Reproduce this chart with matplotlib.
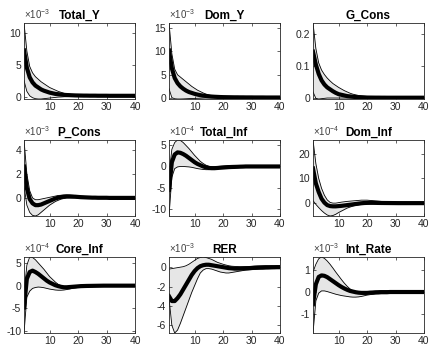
import numpy as np
import matplotlib
matplotlib.use("Agg")
import matplotlib.pyplot as plt
from matplotlib.ticker import FormatStrFormatter

plt.rcParams['font.family'] = ['Liberation Sans', 'DejaVu Sans']
plt.rcParams['mathtext.fontset'] = 'custom'
plt.rcParams['mathtext.rm'] = 'Liberation Sans'
plt.rcParams['mathtext.it'] = 'Liberation Sans:italic'
plt.rcParams['axes.unicode_minus'] = False

periods = np.arange(1, 41)

titles = ['Total_Y', 'Dom_Y', 'G_Cons',
          'P_Cons', 'Total_Inf', 'Dom_Inf',
          'Core_Inf', 'RER', 'Int_Rate']
exponents = [-3, -3, None, -3, -4, -4, -4, -3, -3]
yticks = [[0, 5, 10], [0, 5, 10, 15], [0, 0.1, 0.2],
          [0, 2, 4], [-10, -5, 0, 5], [0, 10, 20],
          [-10, -5, 0, 5], [-6, -4, -2, 0], [-1, 0, 1]]

# values below are already divided by the axis exponent
total_y_med = [7.3, 4.6, 3.1, 2.3, 1.8, 1.5, 1.2, 1.0, 0.85, 0.7, 0.6, 0.5, 0.45, 0.4, 0.35, 0.32, 0.3, 0.28, 0.26, 0.25,
               0.24, 0.23, 0.23, 0.22, 0.22, 0.22, 0.21, 0.21, 0.21, 0.21, 0.2, 0.2, 0.2, 0.2, 0.2, 0.2, 0.2, 0.2, 0.2, 0.2]
total_y_hi = [11.6, 7.2, 4.8, 3.8, 3.2, 2.8, 2.4, 2.1, 1.8, 1.5, 1.3, 1.1, 0.9, 0.75, 0.6, 0.5, 0.45, 0.4, 0.35, 0.32,
              0.3, 0.3, 0.3, 0.3, 0.3, 0.3, 0.3, 0.3, 0.3, 0.3, 0.3, 0.3, 0.3, 0.3, 0.3, 0.3, 0.3, 0.3, 0.3, 0.3]
total_y_lo = [2.6, 0.9, 0.2, -0.1, -0.25, -0.3, -0.3, -0.25, -0.2, -0.15, -0.1, -0.05, 0.0, 0.02, 0.05, 0.07, 0.08, 0.1, 0.1, 0.1,
              0.1, 0.1, 0.1, 0.1, 0.1, 0.1, 0.1, 0.1, 0.1, 0.1, 0.1, 0.1, 0.1, 0.1, 0.1, 0.1, 0.1, 0.1, 0.1, 0.1]

dom_y_med = [10.2, 6.4, 4.3, 3.2, 2.5, 2.0, 1.6, 1.3, 1.1, 0.9, 0.75, 0.62, 0.52, 0.45, 0.38, 0.32, 0.28, 0.25, 0.22, 0.2,
             0.19, 0.18, 0.17, 0.16, 0.16, 0.15, 0.15, 0.14, 0.14, 0.14, 0.13, 0.13, 0.13, 0.13, 0.12, 0.12, 0.12, 0.12, 0.12, 0.12]
dom_y_hi = [16.1, 9.5, 6.2, 5.0, 4.5, 4.0, 3.5, 3.0, 2.5, 2.1, 1.7, 1.4, 1.1, 0.85, 0.65, 0.5, 0.4, 0.32, 0.27, 0.23,
            0.22, 0.21, 0.21, 0.2, 0.2, 0.2, 0.2, 0.2, 0.2, 0.2, 0.2, 0.2, 0.2, 0.2, 0.2, 0.2, 0.2, 0.2, 0.2, 0.2]
dom_y_lo = [2.0, 0.1, -0.15, -0.2, -0.2, -0.18, -0.15, -0.12, -0.1, -0.08, -0.05, -0.03, 0.0, 0.02, 0.03, 0.04, 0.05, 0.05, 0.05, 0.05,
            0.05, 0.05, 0.05, 0.05, 0.05, 0.05, 0.05, 0.05, 0.05, 0.05, 0.05, 0.05, 0.05, 0.05, 0.05, 0.05, 0.05, 0.05, 0.05, 0.05]

g_cons_med = [0.145, 0.105, 0.076, 0.056, 0.043, 0.034, 0.028, 0.022, 0.017, 0.013, 0.011, 0.009, 0.007, 0.006, 0.005, 0.004, 0.0035, 0.003, 0.0027, 0.0025,
              0.0024, 0.0023, 0.0022, 0.0022, 0.0021, 0.0021, 0.002, 0.002, 0.002, 0.002, 0.002, 0.002, 0.002, 0.002, 0.002, 0.002, 0.002, 0.002, 0.002, 0.002]
g_cons_hi = [0.234, 0.155, 0.110, 0.088, 0.074, 0.063, 0.054, 0.046, 0.040, 0.034, 0.029, 0.024, 0.020, 0.016, 0.013, 0.011, 0.009, 0.008, 0.007, 0.006,
             0.0055, 0.005, 0.005, 0.0048, 0.0046, 0.0045, 0.0044, 0.0043, 0.0042, 0.0041, 0.004, 0.004, 0.004, 0.004, 0.004, 0.004, 0.004, 0.004, 0.004, 0.004]
g_cons_lo = [0.02, 0.0, -0.002, -0.001, 0.0, 0.001, 0.001, 0.001, 0.001, 0.001, 0.001, 0.001, 0.001, 0.001, 0.001, 0.001, 0.001, 0.001, 0.001, 0.001,
             0.001, 0.001, 0.001, 0.001, 0.001, 0.001, 0.001, 0.001, 0.001, 0.001, 0.001, 0.001, 0.001, 0.001, 0.001, 0.001, 0.001, 0.001, 0.001, 0.001]

p_cons_med = [2.6, 0.8, -0.1, -0.45, -0.6, -0.6, -0.55, -0.45, -0.35, -0.25, -0.15, -0.05, 0.02, 0.07, 0.1, 0.12, 0.12, 0.11, 0.1, 0.08,
              0.06, 0.05, 0.04, 0.03, 0.02, 0.02, 0.01, 0.01, 0.01, 0.01, 0.0, 0.0, 0.0, 0.0, 0.0, 0.0, 0.0, 0.0, 0.0, 0.0]
p_cons_hi = [4.8, 2.0, 0.6, 0.0, -0.15, -0.15, -0.1, -0.05, 0.0, 0.05, 0.1, 0.15, 0.2, 0.22, 0.24, 0.25, 0.24, 0.22, 0.2, 0.17,
             0.15, 0.13, 0.11, 0.1, 0.09, 0.08, 0.07, 0.07, 0.06, 0.06, 0.06, 0.06, 0.06, 0.06, 0.06, 0.06, 0.06, 0.06, 0.06, 0.06]
p_cons_lo = [1.0, -0.6, -1.2, -1.45, -1.5, -1.4, -1.2, -1.0, -0.8, -0.6, -0.45, -0.3, -0.2, -0.1, -0.05, 0.0, 0.0, 0.0, 0.0, -0.02,
             -0.03, -0.04, -0.05, -0.05, -0.05, -0.05, -0.05, -0.05, -0.05, -0.05, -0.05, -0.05, -0.05, -0.05, -0.05, -0.05, -0.05, -0.05, -0.05, -0.05]

total_inf_med = [-5.5, 1.0, 2.8, 3.3, 3.2, 2.9, 2.5, 2.0, 1.5, 1.0, 0.6, 0.3, 0.0, -0.2, -0.35, -0.4, -0.4, -0.35, -0.3, -0.25,
                 -0.2, -0.15, -0.12, -0.1, -0.08, -0.05, -0.03, 0.0, 0.0, 0.0, 0.0, 0.0, 0.0, 0.0, 0.0, 0.0, 0.0, 0.0, 0.0, 0.0]
total_inf_hi = [-2.0, 4.0, 5.6, 6.2, 6.1, 5.6, 4.9, 4.2, 3.4, 2.6, 1.9, 1.2, 0.7, 0.3, 0.05, -0.05, -0.05, 0.0, 0.05, 0.1,
                0.15, 0.2, 0.2, 0.2, 0.2, 0.2, 0.2, 0.2, 0.2, 0.2, 0.2, 0.2, 0.2, 0.2, 0.2, 0.2, 0.2, 0.2, 0.2, 0.2]
total_inf_lo = [-11.6, -2.5, -0.5, -0.1, 0.0, 0.0, -0.05, -0.1, -0.2, -0.35, -0.5, -0.6, -0.7, -0.75, -0.75, -0.7, -0.6, -0.5, -0.45, -0.4,
                -0.35, -0.3, -0.25, -0.2, -0.2, -0.15, -0.15, -0.1, -0.1, -0.1, -0.1, -0.1, -0.1, -0.1, -0.1, -0.1, -0.1, -0.1, -0.1, -0.1]

dom_inf_med = [14.0, 8.0, 4.5, 1.8, 0.2, -0.8, -1.2, -1.3, -1.3, -1.2, -1.1, -0.95, -0.8, -0.65, -0.5, -0.35, -0.2, -0.05, 0.05, 0.1,
               0.12, 0.12, 0.1, 0.08, 0.06, 0.05, 0.04, 0.03, 0.02, 0.01, 0.0, 0.0, 0.0, 0.0, 0.0, 0.0, 0.0, 0.0, 0.0, 0.0]
dom_inf_hi = [25.5, 16.0, 10.0, 6.0, 3.2, 1.3, 0.3, 0.0, 0.0, 0.2, 0.4, 0.55, 0.7, 0.8, 0.9, 1.0, 1.1, 1.2, 1.2, 1.2,
              1.1, 1.0, 0.9, 0.8, 0.7, 0.6, 0.55, 0.5, 0.45, 0.4, 0.38, 0.36, 0.34, 0.32, 0.3, 0.3, 0.3, 0.3, 0.3, 0.3]
dom_inf_lo = [1.0, -0.5, -1.8, -3.0, -4.0, -4.8, -5.2, -5.0, -4.5, -3.8, -3.2, -2.6, -2.0, -1.6, -1.2, -0.9, -0.7, -0.5, -0.4, -0.3,
              -0.25, -0.22, -0.2, -0.2, -0.2, -0.2, -0.2, -0.2, -0.2, -0.2, -0.2, -0.2, -0.2, -0.2, -0.2, -0.2, -0.2, -0.2, -0.2, -0.2]

core_inf_med = [-4.8, 1.5, 3.0, 3.3, 3.0, 2.6, 2.1, 1.6, 1.1, 0.7, 0.4, 0.1, -0.1, -0.25, -0.35, -0.35, -0.3, -0.25, -0.2, -0.15,
                -0.1, -0.08, -0.06, -0.05, -0.04, -0.03, -0.02, -0.01, 0.0, 0.0, 0.0, 0.0, 0.0, 0.0, 0.0, 0.0, 0.0, 0.0, 0.0, 0.0]
core_inf_hi = [-2.0, 4.5, 6.3, 6.2, 5.7, 5.0, 4.3, 3.6, 2.8, 2.0, 1.4, 0.8, 0.3, 0.0, -0.15, -0.2, -0.15, -0.1, 0.0, 0.05,
               0.1, 0.12, 0.15, 0.15, 0.15, 0.15, 0.15, 0.15, 0.15, 0.15, 0.15, 0.15, 0.15, 0.15, 0.15, 0.15, 0.15, 0.15, 0.15, 0.15]
core_inf_lo = [-10.4, -2.5, -1.2, -0.6, -0.4, -0.3, -0.35, -0.45, -0.6, -0.75, -0.85, -0.95, -1.0, -1.0, -0.95, -0.85, -0.75, -0.6, -0.5, -0.4,
               -0.35, -0.3, -0.25, -0.2, -0.2, -0.18, -0.17, -0.16, -0.15, -0.15, -0.15, -0.15, -0.15, -0.15, -0.15, -0.15, -0.15, -0.15, -0.15, -0.15]

rer_med = [-3.0, -3.5, -3.5, -3.2, -2.8, -2.3, -1.8, -1.3, -0.8, -0.4, -0.1, 0.1, 0.2, 0.25, 0.25, 0.2, 0.15, 0.1, 0.05, 0.0,
           -0.05, -0.1, -0.12, -0.15, -0.15, -0.15, -0.13, -0.12, -0.1, -0.08, -0.06, -0.05, -0.04, -0.03, -0.02, -0.02, -0.01, -0.01, 0.0, 0.0]
rer_hi = [-0.2, -0.15, -0.1, -0.05, 0.0, 0.05, 0.15, 0.3, 0.5, 0.7, 0.9, 1.0, 1.05, 1.0, 0.9, 0.8, 0.65, 0.5, 0.4, 0.3,
          0.22, 0.15, 0.1, 0.08, 0.06, 0.05, 0.05, 0.06, 0.07, 0.08, 0.1, 0.12, 0.13, 0.14, 0.15, 0.15, 0.15, 0.15, 0.15, 0.15]
rer_lo = [-3.2, -6.0, -6.8, -6.5, -5.8, -5.0, -4.2, -3.4, -2.6, -1.9, -1.2, -0.6, -0.3, -0.15, -0.15, -0.2, -0.3, -0.4, -0.5, -0.55,
          -0.6, -0.6, -0.55, -0.5, -0.45, -0.4, -0.35, -0.3, -0.28, -0.26, -0.24, -0.22, -0.2, -0.2, -0.18, -0.17, -0.16, -0.15, -0.15, -0.15]

int_rate_med = [-0.55, 0.35, 0.68, 0.75, 0.73, 0.67, 0.58, 0.49, 0.4, 0.31, 0.23, 0.16, 0.1, 0.05, 0.02, -0.01, -0.03, -0.04, -0.04, -0.04,
                -0.03, -0.03, -0.02, -0.02, -0.01, -0.01, -0.01, 0.0, 0.0, 0.0, 0.0, 0.0, 0.0, 0.0, 0.0, 0.0, 0.0, 0.0, 0.0, 0.0]
int_rate_hi = [0.9, 1.25, 1.5, 1.58, 1.52, 1.4, 1.25, 1.08, 0.9, 0.73, 0.56, 0.4, 0.26, 0.14, 0.06, 0.01, 0.0, 0.0, 0.01, 0.02,
               0.03, 0.04, 0.05, 0.06, 0.07, 0.07, 0.07, 0.07, 0.07, 0.07, 0.07, 0.07, 0.07, 0.07, 0.07, 0.07, 0.07, 0.07, 0.07, 0.07]
int_rate_lo = [-1.85, -0.4, -0.05, 0.05, 0.05, 0.02, -0.02, -0.06, -0.1, -0.13, -0.16, -0.18, -0.2, -0.22, -0.23, -0.23, -0.22, -0.2, -0.17, -0.14,
               -0.12, -0.1, -0.08, -0.07, -0.06, -0.05, -0.05, -0.04, -0.04, -0.04, -0.04, -0.04, -0.04, -0.04, -0.04, -0.04, -0.04, -0.04, -0.04, -0.04]

medians = [total_y_med, dom_y_med, g_cons_med, p_cons_med, total_inf_med,
           dom_inf_med, core_inf_med, rer_med, int_rate_med]
uppers = [total_y_hi, dom_y_hi, g_cons_hi, p_cons_hi, total_inf_hi,
          dom_inf_hi, core_inf_hi, rer_hi, int_rate_hi]
lowers = [total_y_lo, dom_y_lo, g_cons_lo, p_cons_lo, total_inf_lo,
          dom_inf_lo, core_inf_lo, rer_lo, int_rate_lo]

W, H = 429, 351
fig = plt.figure(figsize=(W / 100, H / 100), dpi=100)

col_left = [24, 169, 313]
row_top = [23, 140, 257]
ax_w, ax_h = 111, 76

for i in range(9):
    r, c = divmod(i, 3)
    ax = fig.add_axes([col_left[c] / W, (H - row_top[r] - ax_h) / H, ax_w / W, ax_h / H])
    med = np.array(medians[i])
    hi = np.array(uppers[i])
    lo = np.array(lowers[i])

    ax.fill_between(periods, lo, hi, color='#e6e6e6', lw=0)
    ax.plot(periods, hi, color='black', lw=0.6)
    ax.plot(periods, lo, color='black', lw=0.6)
    ax.plot(periods, med, color='black', lw=3.0)

    ax.set_xlim(1, 40)
    ax.set_ylim(lo.min(), hi.max())
    ax.set_xticks([10, 20, 30, 40])
    ax.set_yticks(yticks[i])
    ax.yaxis.set_major_formatter(FormatStrFormatter('%g'))
    ax.tick_params(direction='in', length=2.5, width=0.5, labelsize=7.5,
                   top=True, right=True, colors='#262626', labelcolor='#262626', pad=2)
    for s in ax.spines.values():
        s.set_linewidth(0.6)
        s.set_color('#262626')

    ax.set_title(titles[i], fontsize=8.5, fontweight='bold', pad=3)
    if exponents[i] is not None:
        ax.text(0, 1.02, r'$\times10^{%d}$' % exponents[i], transform=ax.transAxes,
                ha='left', va='bottom', fontsize=7, color='#404040')

fig.savefig('out.png', dpi=100)
